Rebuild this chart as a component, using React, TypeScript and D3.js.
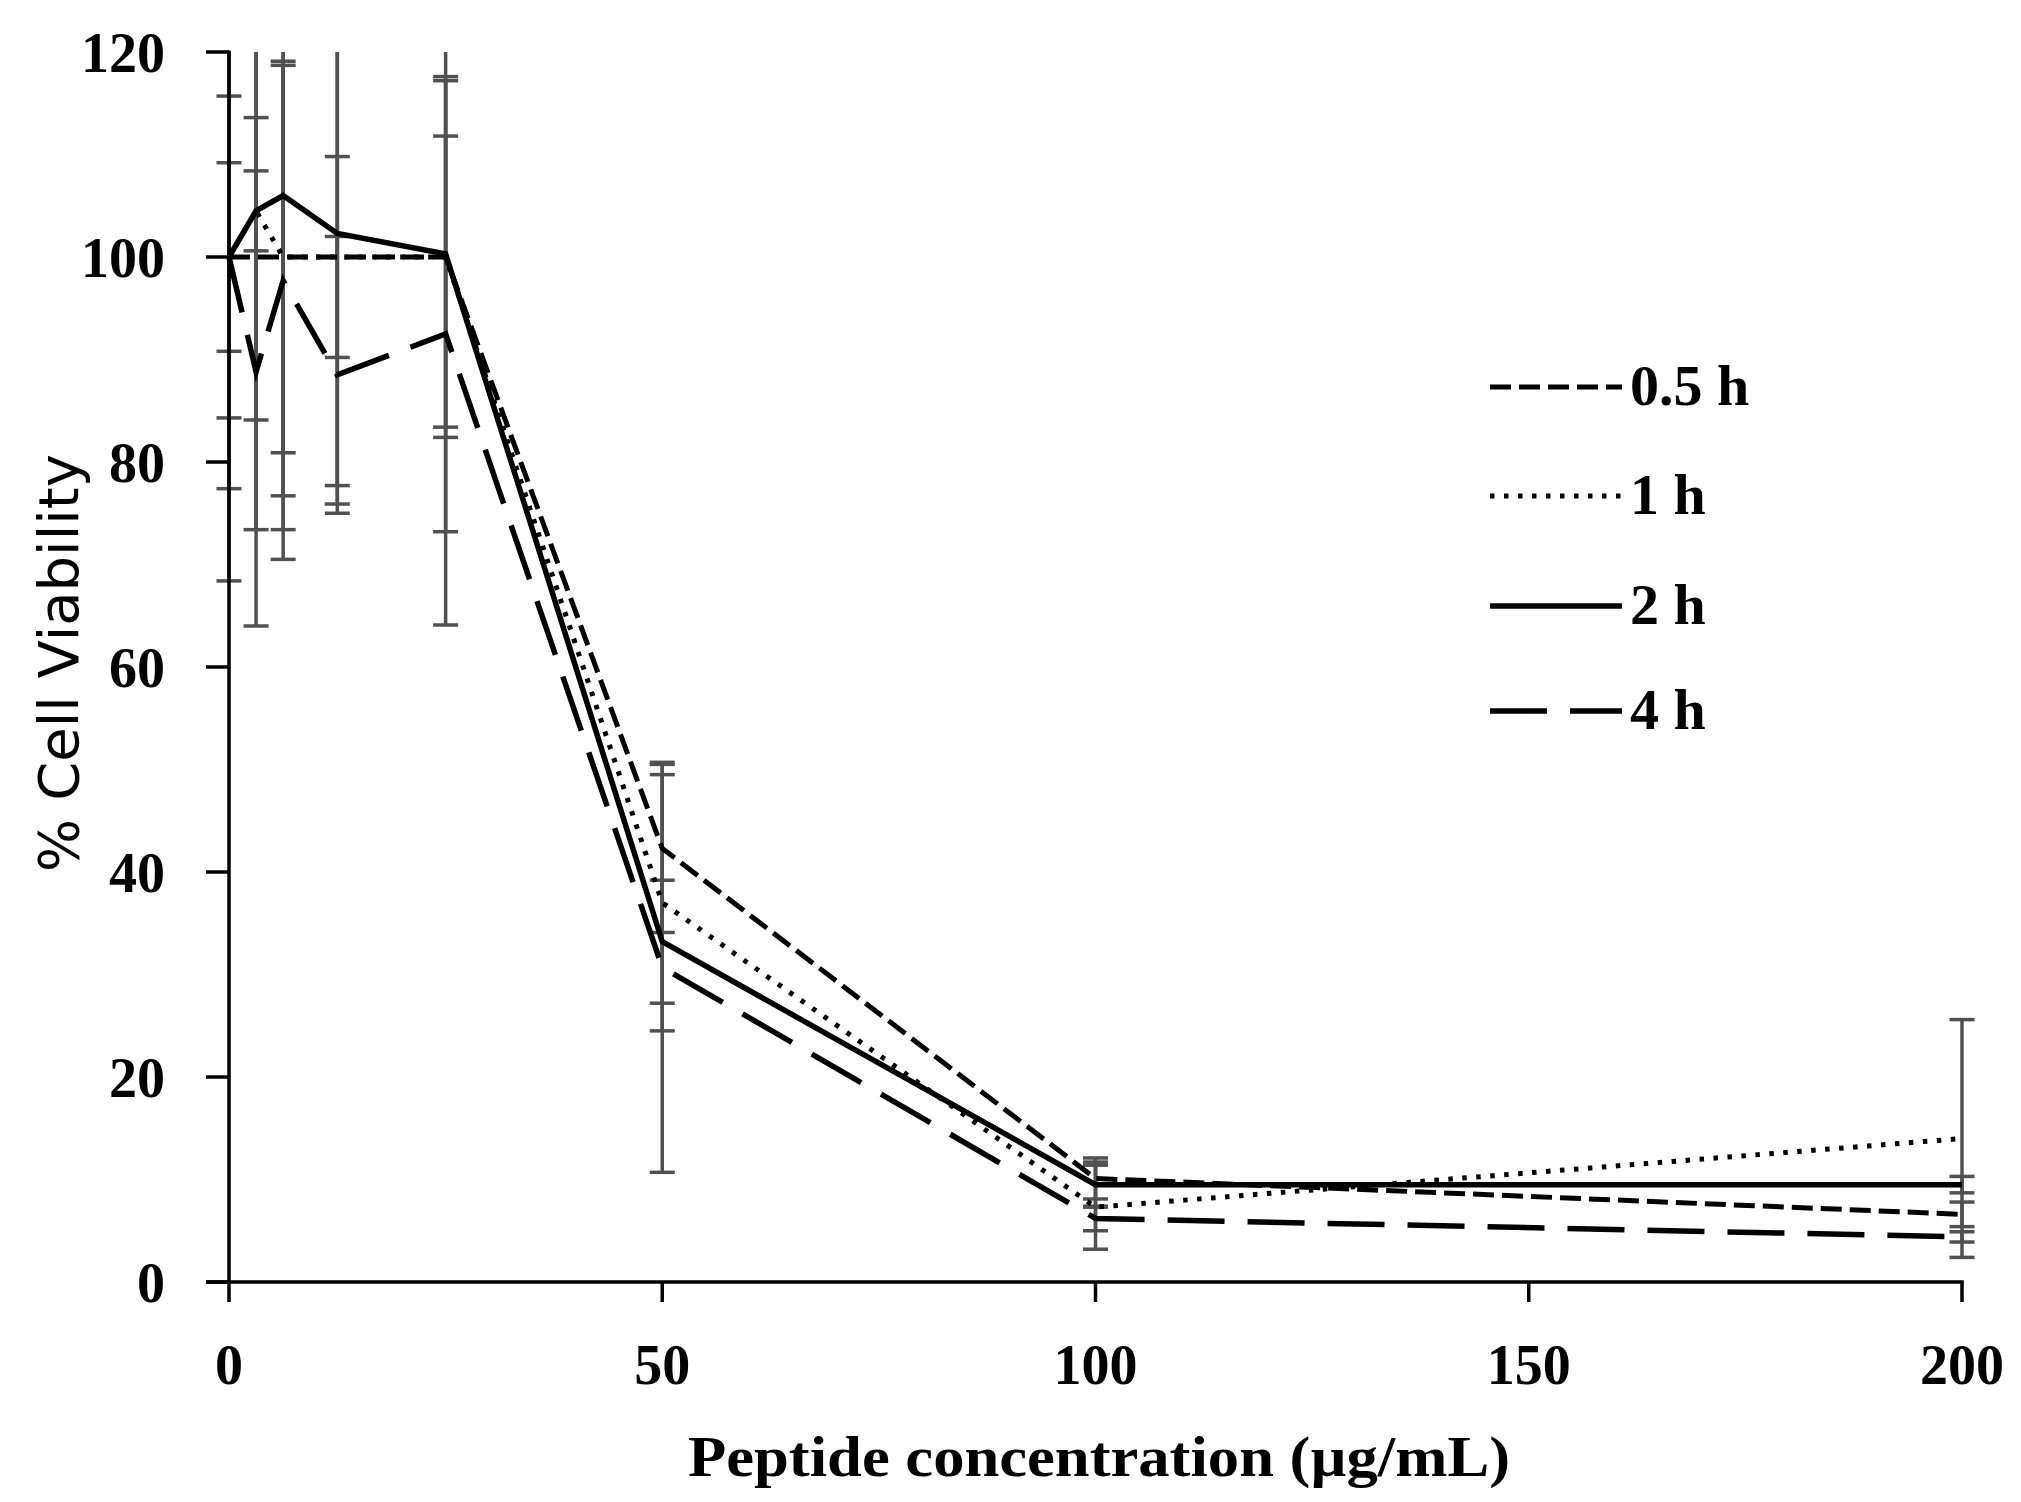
import React from 'react';
import * as d3 from 'd3';

// concentrations in µg/mL
const concentrations = [0, 3.125, 6.25, 12.5, 25, 50, 100, 200];

// % cell viability per incubation time
const viability05 = [100, 100, 100, 100, 100, 42.3, 10.1, 6.6];
const viability1 = [100, 104.5, 100, 100, 100, 37, 7.3, 14.0];
const viability2 = [100, 104.5, 106, 102.3, 100.3, 33.2, 9.5, 9.5];
const viability4 = [100, 88.8, 97.7, 88.5, 92.5, 30.7, 6.2, 4.4];

// standard deviations
const error05 = [9.2, 26.6, 26.6, 9.8, 17.6, 8.2, 2.0, 1.2];
const error1 = [22.6, 20.4, 19.1, 22.3, 35.9, 12.5, 4.1, 11.6];
const error2 = [15.7, 3.9, 35.5, 26.4, 16.9, 6.0, 2.2, 0.8];
const error4 = [31.6, 24.8, 21.0, 13.5, 19.3, 20.0, 1.2, 0.5];

const seriesLabels = ['0.5 h', '1 h', '2 h', '4 h'];
const xTicks = [0, 50, 100, 150, 200];
const yTicks = [0, 20, 40, 60, 80, 100, 120];

const WIDTH = 2021;
const HEIGHT = 1502;

const series = [
  { label: seriesLabels[0], values: viability05, errors: error05, dash: '21,8', width: 5 },
  { label: seriesLabels[1], values: viability1, errors: error1, dash: '4.5,9.5', width: 5 },
  { label: seriesLabels[2], values: viability2, errors: error2, dash: null, width: 5.5 },
  { label: seriesLabels[3], values: viability4, errors: error4, dash: '57,23', width: 5.5 },
];

const serif = '"Liberation Serif", "DejaVu Serif", serif';

export default function App() {
  const x = d3.scaleLinear().domain([0, 200]).range([229, 1962]);
  const y = d3.scaleLinear().domain([0, 120]).range([1282, 52]);

  const line = d3
    .line<number>()
    .x((_, i) => x(concentrations[i]))
    .y(d => y(d));

  const capHalf = 12.5;
  const errColor = '#505050';

  // draw order: lines painted later lie on top
  const drawOrder = [3, 1, 0, 2];

  return (
    <div style={{ position: 'absolute', left: 0, top: 0 }}>
      <svg width={WIDTH} height={HEIGHT} style={{ display: 'block', background: '#fff' }}>
        <defs>
          <clipPath id="plot-clip">
            <rect x={x(0) - 40} y={y(120)} width={x(200) - x(0) + 80} height={y(0) - y(120)} />
          </clipPath>
        </defs>

        {/* error bars */}
        <g clipPath="url(#plot-clip)" stroke={errColor} strokeWidth={3.5}>
          {series.map(s =>
            s.values.map((v, i) => {
              const cx = x(concentrations[i]);
              const top = v + s.errors[i];
              const bottom = v - s.errors[i];
              return (
                <g key={`${s.label}-${i}`}>
                  <line x1={cx} x2={cx} y1={y(top)} y2={y(bottom)} />
                  {top <= 120 && <line x1={cx - capHalf} x2={cx + capHalf} y1={y(top)} y2={y(top)} />}
                  <line x1={cx - capHalf} x2={cx + capHalf} y1={y(bottom)} y2={y(bottom)} />
                </g>
              );
            })
          )}
        </g>

        {/* series lines */}
        <g fill="none" stroke="#000" strokeLinejoin="miter">
          {drawOrder.map(k => {
            const s = series[k];
            return (
              <path
                key={s.label}
                d={line(s.values) || ''}
                strokeWidth={s.width}
                strokeDasharray={s.dash || undefined}
              />
            );
          })}
        </g>

        {/* y axis */}
        <g stroke="#000" strokeWidth={3.5}>
          <line x1={x(0)} x2={x(0)} y1={y(120) - 1.5} y2={y(0)} />
          {yTicks.map(t => (
            <line key={t} x1={x(0) - 23} x2={x(0)} y1={y(t)} y2={y(t)} />
          ))}
        </g>
        <g fontFamily={serif} fontWeight="bold" fontSize={56} textAnchor="end" fill="#000">
          {yTicks.map(t => (
            <text key={t} x={165} y={y(t)} dy="0.35em">
              {t}
            </text>
          ))}
        </g>

        {/* x axis */}
        <g stroke="#000" strokeWidth={3.5}>
          <line x1={x(0) - 23} x2={x(200) + 1.75} y1={y(0)} y2={y(0)} />
          {xTicks.map(t => (
            <line key={t} x1={x(t)} x2={x(t)} y1={y(0)} y2={y(0) + 20} />
          ))}
        </g>
        <g fontFamily={serif} fontWeight="bold" fontSize={56} textAnchor="middle" fill="#000">
          {xTicks.map(t => (
            <text key={t} x={x(t)} y={1384}>
              {t}
            </text>
          ))}
        </g>

        {/* axis titles */}
        <text
          x={1099}
          y={1476}
          textAnchor="middle"
          fontFamily={serif}
          fontWeight="bold"
          fontSize={56}
          textLength={822}
          lengthAdjust="spacingAndGlyphs"
          fill="#000"
        >
          Peptide concentration (µg/mL)
        </text>
        <text
          transform="translate(78,663) rotate(-90)"
          textAnchor="middle"
          fontFamily='"DejaVu Sans", Verdana, sans-serif'
          fontSize={56}
          fill="#000"
        >
          % Cell Viability
        </text>

        {/* legend */}
        <g>
          {series.map((s, i) => {
            const ly = [387, 496, 606, 711][i];
            return (
              <g key={s.label}>
                <line
                  x1={1490}
                  x2={1622}
                  y1={ly}
                  y2={ly}
                  stroke="#000"
                  strokeWidth={s.width}
                  strokeDasharray={s.dash || undefined}
                />
                <text x={1630} y={ly + 18} fontFamily={serif} fontWeight="bold" fontSize={58} fill="#000">
                  {s.label}
                </text>
              </g>
            );
          })}
        </g>
      </svg>
    </div>
  );
}
